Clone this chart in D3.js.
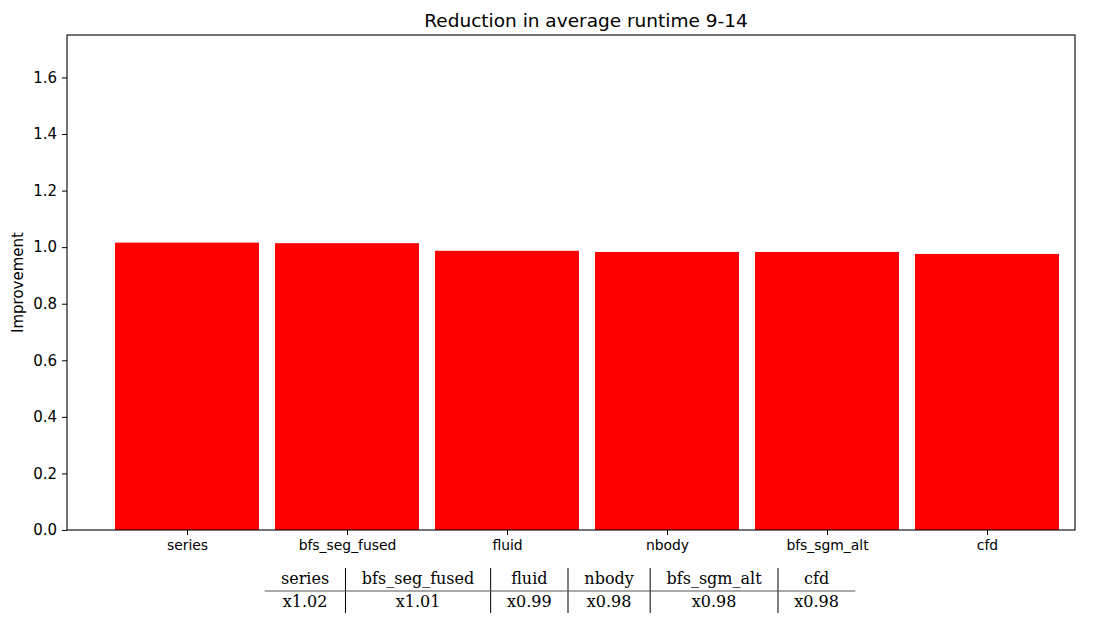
<!DOCTYPE html>
<html><head><meta charset="utf-8">
<script src="https://cdn.jsdelivr.net/npm/d3@7"></script>
<style>body{margin:0;background:#fff;} svg{display:block;}</style>
</head><body>
<svg id="c" width="1108" height="624"></svg>
<script>
const categories = ["series","bfs_seg_fused","fluid","nbody","bfs_sgm_alt","cfd"];
const values = [1.016, 1.014, 0.987, 0.983, 0.983, 0.976];
const tableLabels = ["x1.02","x1.01","x0.99","x0.98","x0.98","x0.98"];
const yTicks = [0,0.2,0.4,0.6,0.8,1.0,1.2,1.4,1.6];
const title = "Reduction in average runtime 9-14";
const yLabel = "Improvement";

const svg = d3.select("#c");
const L=67, R=1075, T=35, B=530;
const x = d3.scaleLinear().domain([-0.75, 5.55]).range([L, R]);
const y = d3.scaleLinear().domain([0, 1.75]).range([B, T]);
const bw = 0.9;

svg.append("g").selectAll("rect").data(values).join("rect")
  .attr("x", (d,i)=>x(i-bw/2)).attr("width", (d,i)=>x(i+bw/2)-x(i-bw/2))
  .attr("y", d=>y(d)).attr("height", d=>y(0)-y(d)).attr("fill","#ff0000");

const ya = svg.append("g").attr("transform",`translate(${L},0)`)
  .call(d3.axisLeft(y).tickValues(yTicks).tickFormat(d3.format(".1f")).tickSize(5).tickPadding(5));
ya.select(".domain").remove();
ya.selectAll("text").attr("font-family","DejaVu Sans").attr("font-size","15px").attr("fill","#000");
ya.selectAll("line").attr("stroke","#000").attr("stroke-width",1);

const xa = svg.append("g").attr("transform",`translate(0,${B})`)
  .call(d3.axisBottom(x).tickValues(d3.range(categories.length)).tickFormat(i=>categories[i]).tickSize(5).tickPadding(5));
xa.select(".domain").remove();
xa.selectAll("text").attr("font-family","DejaVu Sans").attr("font-size","13.9px").attr("fill","#000");
xa.selectAll("line").attr("stroke","#000").attr("stroke-width",1);

svg.append("rect").attr("x",L).attr("y",T).attr("width",R-L).attr("height",B-T)
  .attr("fill","none").attr("stroke","#000").attr("stroke-width",1.1);

svg.append("text").attr("x",586).attr("y",T-8).attr("text-anchor","middle")
  .attr("font-family","DejaVu Sans").attr("font-size","18.5px").text(title);

svg.append("text").attr("transform",`translate(23,${(T+B)/2}) rotate(-90)`).attr("text-anchor","middle")
  .attr("font-family","DejaVu Sans").attr("font-size","15px").text(yLabel);

// table
const tg = svg.append("g");
const fs = "16px", ff = "DejaVu Serif";
const widths = categories.map((c,i)=>{
  const t1 = tg.append("text").attr("font-family",ff).attr("font-size",fs).text(c);
  const t2 = tg.append("text").attr("font-family",ff).attr("font-size",fs).text(tableLabels[i]);
  const w = Math.max(t1.node().getComputedTextLength(), t2.node().getComputedTextLength());
  t1.remove(); t2.remove();
  return w + 32.7;
});
const total = d3.sum(widths);
const tx0 = 560 - total/2;
const lineY = 591, rowTop = 568, rowBot = 613;
let cx = tx0;
categories.forEach((c,i)=>{
  const mid = cx + widths[i]/2;
  tg.append("text").attr("x",mid).attr("y",584).attr("text-anchor","middle")
    .attr("font-family",ff).attr("font-size",fs).text(c);
  tg.append("text").attr("x",mid).attr("y",607).attr("text-anchor","middle")
    .attr("font-family",ff).attr("font-size",fs).text(tableLabels[i]);
  cx += widths[i];
  if (i < categories.length-1) {
    tg.append("line").attr("x1",cx).attr("x2",cx).attr("y1",rowTop).attr("y2",rowBot)
      .attr("stroke","#000").attr("stroke-width",1);
  }
});
tg.append("line").attr("x1",tx0).attr("x2",tx0+total).attr("y1",lineY).attr("y2",lineY)
  .attr("stroke","#555").attr("stroke-width",1.2);
</script>
</body></html>
